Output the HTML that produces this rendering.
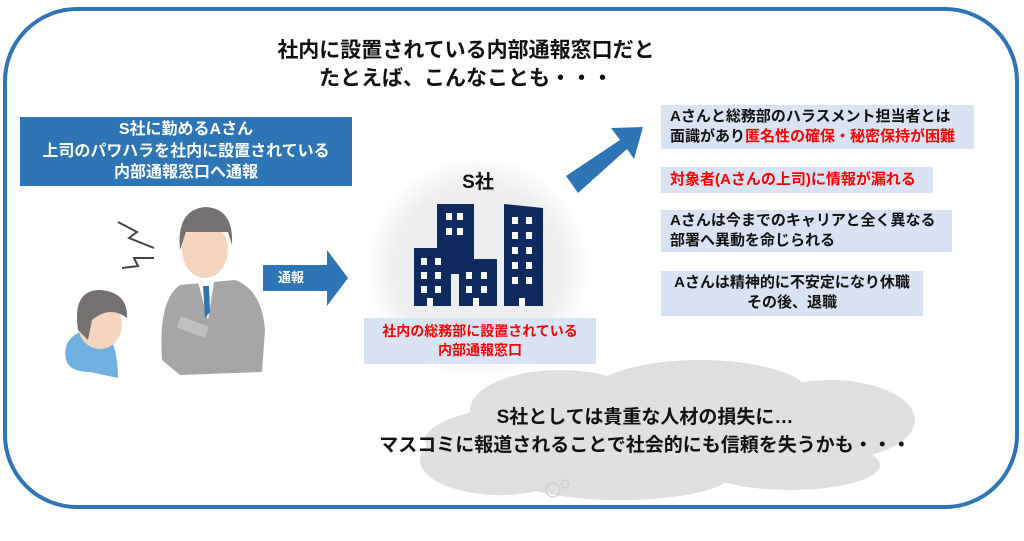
<!DOCTYPE html>
<html><head><meta charset="utf-8"><style>
body{margin:0;width:1024px;height:541px;background:#fff;overflow:hidden;position:relative;font-family:"Liberation Sans","Noto Sans CJK JP",sans-serif;font-weight:bold}
.t{position:absolute;white-space:nowrap;line-height:1.4}
.box{position:absolute;background:#dae3f3;}
</style></head><body>
<svg width="1024" height="541" style="position:absolute;left:0;top:0">
<defs>
<radialGradient id="g"><stop offset="0.75" stop-color="#eeeeee"/><stop offset="1" stop-color="#ffffff"/></radialGradient>
</defs>
<rect x="5" y="9" width="1012" height="498" rx="72" fill="#fff" stroke="#2e75b6" stroke-width="4"/>
<circle cx="478" cy="268" r="112" fill="url(#g)"/>
<g fill="#e0e0e0">
<ellipse cx="640" cy="440" rx="215" ry="45"/>
<ellipse cx="560" cy="410" rx="90" ry="40"/>
<ellipse cx="700" cy="395" rx="110" ry="35"/>
<ellipse cx="830" cy="420" rx="85" ry="40"/>
<ellipse cx="500" cy="460" rx="80" ry="35"/>
<ellipse cx="620" cy="475" rx="110" ry="25"/>
<ellipse cx="790" cy="465" rx="90" ry="25"/>
</g>
<circle cx="553" cy="490" r="7" fill="none" stroke="#ccc"/>
<circle cx="565" cy="484" r="4" fill="none" stroke="#ccc"/>
<polygon points="263,265 327,265 327,250 348,278 327,306 327,291 263,291" fill="#2e75b6"/>
<polygon points="566,176 620,140 611,128 643,127 634,159 627,149 578,193" fill="#2e75b6"/>
<g fill="#0f2a5f">
<rect x="437" y="204" width="37" height="70"/>
<rect x="414" y="248" width="37" height="58"/>
<rect x="459" y="259" width="38" height="47"/>
<polygon points="504,204 543,208 543,306 504,306"/>
</g>
<g fill="#fff">
<rect x="446" y="213" width="6" height="7"/><rect x="457" y="213" width="6" height="7"/>
<rect x="446" y="228" width="6" height="7"/><rect x="457" y="228" width="6" height="7"/>
<rect x="421" y="258" width="6" height="7"/><rect x="435" y="258" width="6" height="7"/>
<rect x="421" y="272" width="6" height="7"/><rect x="435" y="272" width="6" height="7"/>
<rect x="421" y="286" width="6" height="7"/><rect x="435" y="286" width="6" height="7"/>
<rect x="466" y="272" width="6" height="7"/><rect x="481" y="272" width="6" height="7"/>
<rect x="466" y="286" width="6" height="7"/><rect x="481" y="286" width="6" height="7"/>
<rect x="512" y="217" width="6" height="7"/><rect x="526" y="217" width="6" height="7"/>
<rect x="512" y="232" width="6" height="7"/><rect x="526" y="232" width="6" height="7"/>
<rect x="512" y="247" width="6" height="7"/><rect x="526" y="247" width="6" height="7"/>
<rect x="512" y="262" width="6" height="7"/><rect x="526" y="262" width="6" height="7"/>
<rect x="512" y="277" width="6" height="7"/><rect x="526" y="277" width="6" height="7"/>
<rect x="427" y="298" width="6" height="8"/><rect x="473" y="298" width="6" height="8"/><rect x="519" y="298" width="6" height="8"/>
</g>
<polyline points="118,222 137,232 129,238 154,248" fill="none" stroke="#444" stroke-width="2"/>
<polyline points="122,268 138,266 134,258 154,258" fill="none" stroke="#444" stroke-width="2"/>
<path d="M162,360 Q158,300 180,285 L235,280 Q262,290 265,330 L262,372 L180,375 Z" fill="#a6a6a6"/>
<polygon points="198,282 214,282 208,320" fill="#fff"/>
<polygon points="203,286 209,286 210,312 205,318" fill="#2e75b6"/>
<ellipse cx="205" cy="250" rx="23" ry="28" fill="#f6d5bf"/>
<path d="M180,250 Q176,210 205,207 Q234,208 232,245 L228,232 Q205,232 186,232 Z" fill="#767171"/>
<rect x="178" y="320" width="30" height="12" fill="#bfbfbf" transform="rotate(20 190 326)"/>
<path d="M66,360 Q62,340 80,332 L105,330 Q118,345 118,378 L90,372 Q70,372 66,360Z" fill="#70b1e0"/>
<ellipse cx="100" cy="325" rx="22" ry="24" fill="#f6d5bf"/>
<path d="M78,330 Q72,290 100,290 Q128,292 127,318 Q110,305 92,320 L88,340 Z" fill="#767171"/>
</svg>
<div class="t" style="left:0;width:932px;top:37px;text-align:center;font-size:21px;color:#111;line-height:28px">社内に設置されている内部通報窓口だと<br>たとえば、こんなことも・・・</div>
<div style="position:absolute;left:20px;top:117px;width:332px;height:69px;background:#2e75b6"></div>
<div class="t" style="left:20px;width:332px;top:119px;text-align:center;font-size:16px;color:#fff;line-height:21.5px">S社に勤めるAさん<br>上司のパワハラを社内に設置されている<br>内部通報窓口へ通報</div>
<div class="t" style="left:278px;top:268px;font-size:13px;color:#fff;line-height:20px">通報</div>
<div class="t" style="left:438px;top:169px;width:80px;text-align:center;font-size:19px;color:#111;line-height:28px">S社</div>
<div class="box" style="left:364px;top:318px;width:232px;height:46px"></div>
<div class="t" style="left:364px;top:322px;width:232px;text-align:center;font-size:14px;color:#ff0000;line-height:19px">社内の総務部に設置されている<br>内部通報窓口</div>
<div class="box" style="left:661px;top:105px;width:313px;height:44px"></div>
<div class="t" style="left:670px;top:107px;font-size:15px;color:#111;line-height:20px">Aさんと総務部のハラスメント担当者とは<br>面識があり<span style="color:#ff0000">匿名性の確保・秘密保持が困難</span></div>
<div class="box" style="left:661px;top:167px;width:272px;height:26px"></div>
<div class="t" style="left:670px;top:170px;font-size:15px;color:#ff0000;line-height:20px">対象者(Aさんの上司)に情報が漏れる</div>
<div class="box" style="left:661px;top:210px;width:291px;height:42px"></div>
<div class="t" style="left:670px;top:211px;font-size:15px;color:#111;line-height:20px">Aさんは今までのキャリアと全く異なる<br>部署へ異動を命じられる</div>
<div class="box" style="left:661px;top:271px;width:262px;height:45px"></div>
<div class="t" style="left:661px;width:262px;top:273px;text-align:center;font-size:15px;color:#111;line-height:20px">Aさんは精神的に不安定になり休職<br>その後、退職</div>
<div class="t" style="left:370px;width:550px;top:404px;text-align:center;font-size:19px;color:#111;line-height:28px">S社としては貴重な人材の損失に…<br>マスコミに報道されることで社会的にも信頼を失うかも・・・</div>
</body></html>
